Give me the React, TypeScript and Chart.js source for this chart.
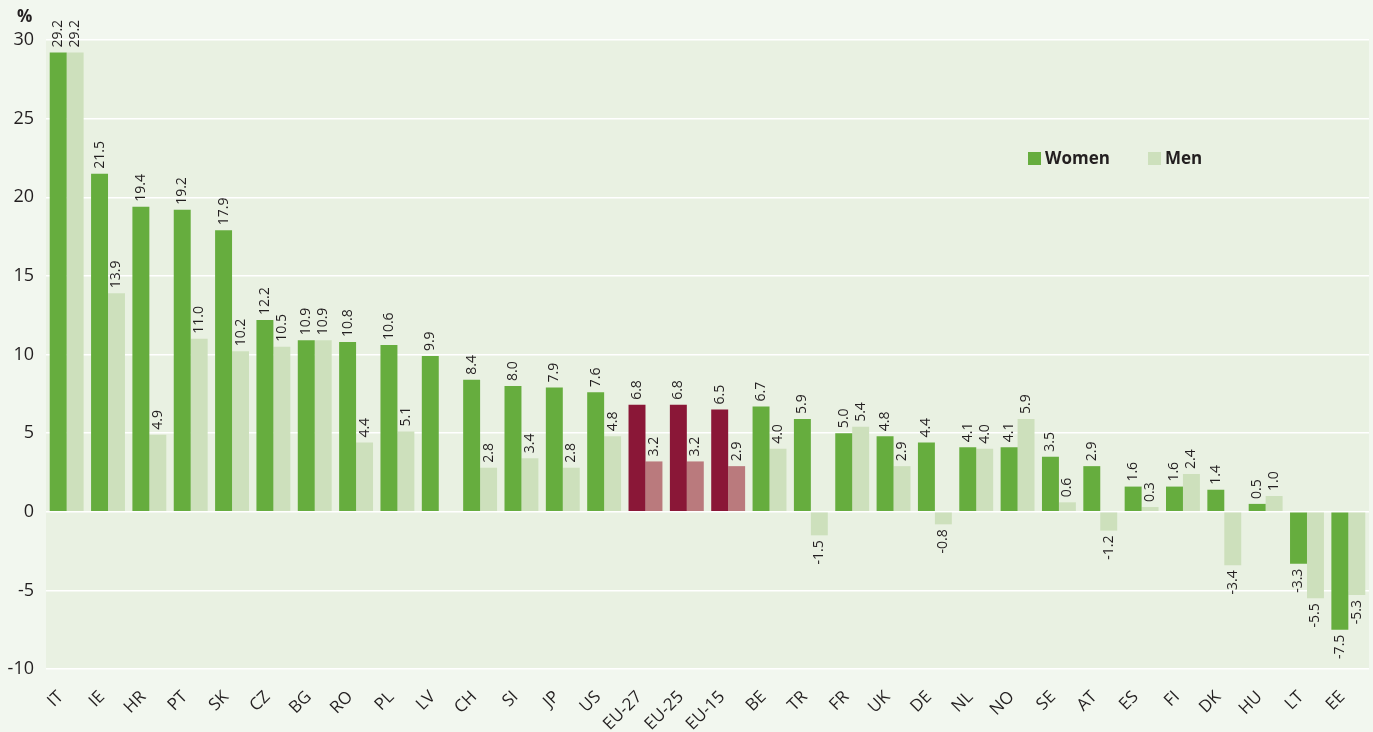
import React, { useEffect, useRef } from "react";
import { Chart, registerables } from "chart.js";

Chart.register(...registerables);

const categories = ["IT", "IE", "HR", "PT", "SK", "CZ", "BG", "RO", "PL", "LV", "CH", "SI", "JP", "US", "EU-27", "EU-25", "EU-15", "BE", "TR", "FR", "UK", "DE", "NL", "NO", "SE", "AT", "ES", "FI", "DK", "HU", "LT", "EE"];
const women = [29.2, 21.5, 19.4, 19.2, 17.9, 12.2, 10.9, 10.8, 10.6, 9.9, 8.4, 8.0, 7.9, 7.6, 6.8, 6.8, 6.5, 6.7, 5.9, 5.0, 4.8, 4.4, 4.1, 4.1, 3.5, 2.9, 1.6, 1.6, 1.4, 0.5, -3.3, -7.5];
const men: (number | null)[] = [29.2, 13.9, 4.9, 11.0, 10.2, 10.5, 10.9, 4.4, 5.1, null, 2.8, 3.4, 2.8, 4.8, 3.2, 3.2, 2.9, 4.0, -1.5, 5.4, 2.9, -0.8, 4.0, 5.9, 0.6, -1.2, 0.3, 2.4, -3.4, 1.0, -5.5, -5.3];
const highlighted = ["EU-27", "EU-25", "EU-15"];
const yTicks = [30, 25, 20, 15, 10, 5, 0, -5, -10];

const WOMEN_COLOR = "#66ad3e";
const MEN_COLOR = "#cde0bc";
const EU_WOMEN_COLOR = "#8a1737";
const EU_MEN_COLOR = "#ba7a7d";
const PLOT_BG = "#e9f1e2";
const PAGE_BG = "#f2f7ef";
const TEXT = "#231f20";
const FONT = "'Open Sans', 'Noto Sans', sans-serif";

const fmt = (v: number) => v.toFixed(1);

const bgPlugin = {
  id: "plotBg",
  beforeDraw(chart: any) {
    const { ctx, chartArea, width, height } = chart;
    ctx.save();
    ctx.fillStyle = PAGE_BG;
    ctx.fillRect(0, 0, width, height);
    ctx.fillStyle = PLOT_BG;
    ctx.fillRect(chartArea.left, chartArea.top, chartArea.right - chartArea.left, chartArea.bottom - chartArea.top);
    ctx.restore();
  },
};

const labelPlugin = {
  id: "valueLabels",
  afterDatasetsDraw(chart: any) {
    const { ctx } = chart;
    ctx.save();
    ctx.font = `14px ${FONT}`;
    ctx.fillStyle = TEXT;
    ctx.textBaseline = "middle";
    chart.data.datasets.forEach((ds: any, di: number) => {
      const meta = chart.getDatasetMeta(di);
      meta.data.forEach((bar: any, i: number) => {
        const v = ds.data[i];
        if (v === null || v === undefined) return;
        const { x, y, base } = bar.getProps(["x", "y", "base"], true);
        ctx.save();
        if (v >= 0) {
          ctx.translate(x, Math.min(y, base) - 5);
          ctx.rotate(-Math.PI / 2);
          ctx.textAlign = "left";
        } else {
          ctx.translate(x, Math.max(y, base) + 5);
          ctx.rotate(-Math.PI / 2);
          ctx.textAlign = "right";
        }
        ctx.fillText(fmt(v), 0, 0);
        ctx.restore();
      });
    });
    // % title
    ctx.font = `bold 17px ${FONT}`;
    ctx.textAlign = "left";
    ctx.textBaseline = "alphabetic";
    ctx.fillText("%", 17, 22);
    // legend
    const items = [
      { label: "Women", color: WOMEN_COLOR, x: 1028 },
      { label: "Men", color: MEN_COLOR, x: 1148 },
    ];
    items.forEach((it) => {
      ctx.fillStyle = it.color;
      ctx.fillRect(it.x, 152, 13, 13);
      ctx.fillStyle = TEXT;
      ctx.font = `bold 17px ${FONT}`;
      ctx.textBaseline = "middle";
      ctx.fillText(it.label, it.x + 17, 159);
    });
    ctx.restore();
  },
};

export default function App() {
  const ref = useRef<HTMLCanvasElement | null>(null);
  useEffect(() => {
    if (!ref.current) return;
    const womenColors = categories.map((c) => (highlighted.includes(c) ? EU_WOMEN_COLOR : WOMEN_COLOR));
    const menColors = categories.map((c) => (highlighted.includes(c) ? EU_MEN_COLOR : MEN_COLOR));
    const chart = new Chart(ref.current, {
      type: "bar",
      data: {
        labels: categories,
        datasets: [
          { label: "Women", data: women, backgroundColor: womenColors, borderWidth: 0 },
          { label: "Men", data: men, backgroundColor: menColors, borderWidth: 0 },
        ],
      },
      options: {
        animation: false,
        responsive: false,
        maintainAspectRatio: false,
        layout: { padding: { top: 40, right: 4, left: 0, bottom: 0 } },
        plugins: { legend: { display: false }, tooltip: { enabled: false } },
        datasets: { bar: { categoryPercentage: 0.82, barPercentage: 1.0 } },
        scales: {
          x: {
            grid: { display: false },
            border: { display: false },
            ticks: {
              color: TEXT,
              font: { size: 17, family: FONT },
              minRotation: 45,
              maxRotation: 45,
              autoSkip: false,
              padding: 10,
              labelOffset: -6,
            },
            afterFit: (s: any) => {
              s.height = 63;
            },
          },
          y: {
            min: -10,
            max: 30,
            afterBuildTicks: (s: any) => {
              s.ticks = yTicks.map((v) => ({ value: v }));
            },
            grid: { color: "#ffffff", lineWidth: 1.5, drawTicks: false },
            border: { display: false },
            ticks: {
              color: TEXT,
              font: { size: 18, family: FONT },
              padding: 12,
              callback: (v: any) => String(v),
            },
            afterFit: (s: any) => {
              s.width = 46;
            },
          },
        },
      },
      plugins: [bgPlugin, labelPlugin],
    });
    return () => chart.destroy();
  }, []);
  return (
    <div style={{ position: "fixed", left: 0, top: 0, width: 1373, height: 732, background: PAGE_BG }}>
      <canvas ref={ref} width={1373} height={732} style={{ width: 1373, height: 732, display: "block" }} />
    </div>
  );
}
